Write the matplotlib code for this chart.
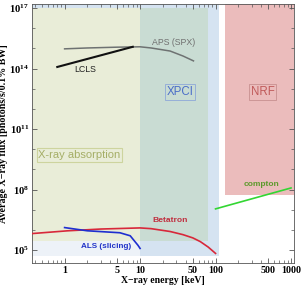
import matplotlib.pyplot as plt
from matplotlib.patches import Rectangle
from matplotlib.ticker import FixedLocator, NullFormatter, LogLocator

# source curves (keV, photons/s/0.1% BW)
lcls_energy = [0.8, 8.0]
lcls_flux = [1.2e14, 1.2e15]

aps_energy = [1, 2, 5, 10, 14, 25, 37, 51]
aps_flux = [9.5e14, 1.05e15, 1.15e15, 1.2e15, 1.05e15, 7.4e14, 4.2e14, 2.4e14]

betatron_energy = [0.36, 1.1, 3, 10, 14, 25, 37, 50, 63, 80, 100]
betatron_flux = [6.5e5, 9e5, 1.1e6, 1.25e6, 1.15e6, 8.3e5, 5.8e5, 4.0e5, 2.6e5, 1.4e5, 6.8e4]

als_energy = [1, 2, 5.4, 7.4, 9.4, 10]
als_flux = [1.3e6, 9e5, 7.2e5, 5.1e5, 1.7e5, 1.2e5]

compton_energy = [100, 1000]
compton_flux = [1.1e7, 1.2e8]

# application regions: (emin, emax, fmin, fmax)
region_blue = (0.3, 110, 5e4, 3e17)
region_absorption = (0.3, 10, 2.8e5, 1e17)
region_xpci = (10, 80, 2.8e5, 1e17)
region_nrf = (133, 2000, 5.5e7, 3e17)

plt.rcParams.update({
    "font.size": 7,
    "mathtext.fontset": "custom",
    "mathtext.bf": "Liberation Serif:bold",
    "mathtext.rm": "Liberation Serif:bold",
    "mathtext.it": "Liberation Serif:bold",
})
SERIF = "Liberation Serif"
SANS = "Liberation Sans"

fig = plt.figure(figsize=(3.02, 2.88), dpi=100)
ax = fig.add_axes([0.106, 0.087, 0.868, 0.899])
ax.set_xscale("log")
ax.set_yscale("log")
ax.set_xlim(0.37, 1100)
ax.set_ylim(10**4.36, 10**17.2)


def add_region(reg, color, z=0):
    x0, x1, y0, y1 = reg
    ax.add_patch(Rectangle((x0, y0), x1 - x0, y1 - y0, facecolor=color,
                           edgecolor="none", zorder=z))


add_region(region_blue, "#d5e3f1", 0)
add_region((0.3, 10, 5e4, 2.8e5), "#edf2f8", 0.5)
add_region(region_absorption, "#e9edd8", 1)
add_region(region_xpci, "#c9dcd3", 1)
add_region(region_nrf, "#ebbcbc", 1)

ax.plot(aps_energy, aps_flux, color="#6e7272", lw=1.1, zorder=3)
ax.plot(lcls_energy, lcls_flux, color="#111111", lw=1.5, zorder=3)
ax.plot(betatron_energy, betatron_flux, color="#d8283a", lw=1.2, zorder=3)
ax.plot(als_energy, als_flux, color="#1f2fd0", lw=1.2, zorder=3)
ax.plot(compton_energy, compton_flux, color="#33d633", lw=1.2, zorder=3)

ax.text(1.85, 10**13.93, "LCLS", family=SANS, fontsize=6.3, color="#222222",
        ha="center", va="center", zorder=4)
ax.text(27.5, 10**15.27, "APS (SPX)", family=SANS, fontsize=6.3, color="#707070",
        ha="center", va="center", zorder=4)
ax.text(34, 10**12.84, "XPCI", family=SANS, fontsize=8.3, color="#4a6dc8",
        ha="center", va="center", zorder=4,
        bbox=dict(boxstyle="square,pad=0.15", fc="none", ec="#8ea8d8", lw=0.6))
ax.text(420, 10**12.84, "NRF", family=SANS, fontsize=8.3, color="#c05a5a",
        ha="center", va="center", zorder=4,
        bbox=dict(boxstyle="square,pad=0.15", fc="none", ec="#c89090", lw=0.6))
ax.text(1.58, 10**9.72, "X-ray absorption", family=SANS, fontsize=8, color="#a5ae66",
        ha="center", va="center", zorder=4,
        bbox=dict(boxstyle="square,pad=0.15", fc="none", ec="#cdd49e", lw=0.8))
ax.text(25, 10**6.45, "Betatron", family=SANS, fontsize=6.1, color="#c03040",
        fontweight="bold", ha="center", va="center", zorder=4)
ax.text(3.6, 10**5.17, "ALS (slicing)", family=SANS, fontsize=5.9, color="#2233c8",
        fontweight="bold", ha="center", va="center", zorder=4)
ax.text(410, 10**8.24, "compton", family=SANS, fontsize=6, color="#5c9a2c",
        fontweight="bold", ha="center", va="center", zorder=4)

xticks = [1, 5, 10, 50, 100, 500, 1000]
ax.xaxis.set_major_locator(FixedLocator(xticks))
ax.set_xticklabels([str(t) for t in xticks], family=SERIF, fontweight="bold", fontsize=7.2)
ax.xaxis.set_minor_locator(LogLocator(base=10, subs=range(2, 10)))
ax.xaxis.set_minor_formatter(NullFormatter())

yticks = [1e5, 1e8, 1e11, 1e14, 1e17]
ax.yaxis.set_major_locator(FixedLocator(yticks))
ax.set_yticklabels([r"$\mathbf{10^{%d}}$" % e for e in (5, 8, 11, 14, 17)], fontsize=7.6)
ax.yaxis.set_minor_locator(LogLocator(base=10, subs=[1.0], numticks=30))
ax.yaxis.set_minor_formatter(NullFormatter())

ax.tick_params(which="both", direction="in", top=True, right=True, color="#555555")
ax.tick_params(which="major", length=3.5, width=0.6, pad=2)
ax.tick_params(which="minor", length=2, width=0.5)
for s in ax.spines.values():
    s.set_linewidth(0.6)
    s.set_color("#555555")

ax.set_xlabel("X\u2212ray energy [keV]", family=SERIF, fontweight="bold", fontsize=7, labelpad=1)
ax.set_ylabel("Average X\u2212ray flux [photons/s/0.1% BW]", family=SERIF,
              fontweight="bold", fontsize=7.2)
ax.yaxis.set_label_coords(-0.09, 0.5)

fig.savefig("out.png", dpi=100)
